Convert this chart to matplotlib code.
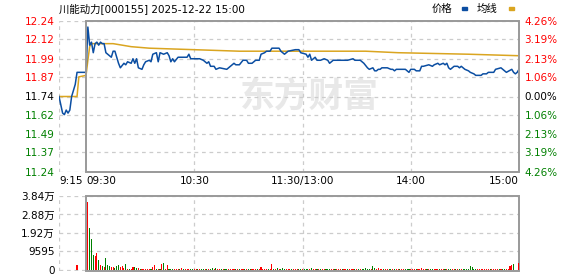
import matplotlib
matplotlib.use("Agg")
import matplotlib.pyplot as plt
from matplotlib.patches import Rectangle
import numpy as np

plt.rcParams['font.family'] = ['DejaVu Sans', 'Noto Sans CJK SC']

# minutes counted from 9:15 (11:30 and 13:00 share minute 135)
price_t = [0, 2, 3, 4, 5, 6, 7, 8, 9, 10, 15, 16, 17, 18, 19, 20, 21, 22, 23, 24, 25, 26, 27, 29, 30,
           31, 32, 33, 34, 36, 37, 38, 40, 41, 42, 43, 44, 46, 47, 48, 50, 51, 52, 54, 55, 56, 58, 60,
           61, 62, 63, 64, 66, 71, 72, 73, 76, 78, 80, 82, 83, 84, 86, 87, 89, 93, 95, 97, 98, 100,
           102, 104, 105, 107, 109, 111, 112, 114, 115, 117, 118, 122, 123, 125, 127, 131, 133, 134,
           137, 138, 139, 140, 142, 143, 145, 147, 149, 150, 152, 156, 160, 163, 164, 167, 168, 169,
           171, 172, 174, 175, 176, 177, 178, 179, 182, 184, 185, 186, 187, 189, 192, 193, 194, 195,
           197, 198, 200, 201, 202, 205, 207, 208, 210, 211, 213, 214, 215, 216, 217, 219, 221, 222,
           223, 225, 227, 228, 230, 231, 234, 235, 237, 238, 241, 242, 245, 246, 247, 248, 251, 252,
           253, 254, 255]
price_v = [11.74, 11.63, 11.62, 11.65, 11.63, 11.65, 11.74, 11.78, 11.82, 11.90, 11.90, 12.20, 12.08,
           12.10, 12.03, 12.09, 12.10, 12.08, 12.10, 12.09, 12.09, 12.03, 12.02, 12.00, 12.04, 12.04,
           12.00, 11.96, 11.93, 11.96, 11.95, 11.97, 11.96, 11.99, 11.96, 11.99, 11.93, 11.92, 11.95,
           11.97, 11.98, 11.97, 12.02, 12.03, 11.97, 12.03, 12.02, 12.03, 12.01, 11.97, 11.99, 11.97,
           12.00, 12.00, 12.02, 11.99, 11.99, 11.99, 11.98, 11.96, 11.97, 11.94, 11.94, 11.92, 11.93,
           11.92, 11.94, 11.96, 11.95, 11.95, 11.98, 11.98, 11.96, 11.96, 11.98, 11.98, 12.02, 12.03,
           12.04, 12.04, 12.06, 12.06, 12.04, 12.02, 12.04, 12.05, 12.05, 12.03, 12.02, 12.00, 12.02,
           11.98, 12.00, 11.98, 11.98, 11.99, 11.98, 11.96, 11.98, 11.98, 11.98, 11.99, 11.98, 11.98,
           11.97, 11.96, 11.93, 11.92, 11.93, 11.91, 11.91, 11.92, 11.92, 11.93, 11.93, 11.92, 11.92,
           11.91, 11.92, 11.92, 11.92, 11.91, 11.90, 11.92, 11.92, 11.91, 11.91, 11.94, 11.94, 11.95,
           11.94, 11.95, 11.96, 11.95, 11.96, 11.95, 11.96, 11.93, 11.92, 11.94, 11.94, 11.93, 11.94,
           11.92, 11.91, 11.90, 11.89, 11.88, 11.88, 11.89, 11.89, 11.90, 11.90, 11.92, 11.93, 11.92,
           11.91, 11.90, 11.92, 11.90, 11.89, 11.90, 11.92]

avg_t = [0, 10, 11, 15, 16, 17, 18, 30, 40, 50, 75, 100, 170, 188, 227, 241, 255]
avg_v = [11.74, 11.74, 11.87, 11.88, 11.98, 12.07, 12.09, 12.09, 12.07, 12.06, 12.05, 12.04,
         12.04, 12.03, 12.02, 12.015, 12.01]

# volume per minute from 9:31 (minute 16) on, u = up (red), d = down (green)
vol_start = 16
vol = [35430, 21940, 16080, 7780, 7260, 8980, 5190, 2590, 1900, 1400, 6050, 2590, 2070, 1380, 1380, 960, 2240, 2590, 1380, 1900,
       700, 2780, 600, 600, 600, 1380, 1380, 700, 800, 600, 600, 600, 600, 600, 600, 600, 1730, 2590, 520, 600,
       520, 3110, 3460, 600, 2590, 520, 520, 520, 520, 520, 600, 520, 880, 520, 520, 520, 600, 520, 520, 520,
       520, 600, 520, 520, 600, 520, 600, 520, 600, 900, 520, 700, 520, 600, 520, 520, 520, 600, 520, 600,
       520, 600, 520, 520, 520, 520, 600, 520, 520, 600, 520, 520, 520, 600, 520, 520, 1400, 600, 600, 600,
       600, 520, 2950, 600, 520, 880, 520, 600, 880, 520, 600, 520, 520, 600, 520, 600, 520, 520, 600, 520,
       600, 600, 600, 520, 700, 520, 600, 520, 520, 520, 600, 520, 520, 520, 600, 520, 520, 520, 520, 520,
       520, 520, 520, 520, 520, 520, 600, 520, 520, 520, 520, 520, 600, 600, 880, 600, 600, 600, 2070, 1200,
       600, 880, 520, 600, 520, 520, 520, 600, 520, 520, 520, 520, 520, 520, 520, 520, 600, 520, 600, 520,
       520, 520, 520, 520, 520, 700, 600, 520, 520, 600, 520, 520, 600, 520, 600, 520, 520, 520, 520, 600,
       600, 600, 520, 520, 520, 520, 600, 520, 520, 520, 520, 520, 2070, 1380, 600, 520, 520, 520, 520, 520,
       520, 520, 520, 520, 520, 600, 600, 520, 520, 520, 520, 520, 600, 520, 2070, 2590, 3110, 0, 0, 3480]
vol_dir = ("udddu ududu ddduu ddduu ududu uddud uuuuu duudu duduu ddduu ududu uuddu "
           "ududd ududd uduud udduu uudud uudud duuud uuuuu duudu duddd uuudu uuddu "
           "dddud uudud uuddd uuduu uduud uuudu duddd ddudd uuuud uuddu duudu udddu "
           "uuduu uuudu dduuu duudu dduud ududd ddddd duuuu uuudu uuudu dduuu uduuu").replace(" ", "")
auction_t = 10
auction_vol = 2590

prev_close = 11.74
price_ticks = [11.24, 11.37, 11.49, 11.62, 11.74, 11.87, 11.99, 12.12, 12.24]
pct_labels = ['4.26%', '3.19%', '2.13%', '1.06%', '0.00%', '1.06%', '2.13%', '3.19%', '4.26%']
vol_ticks = [0, 9595, 19190, 28785, 38380]
vol_labels = ['0', '9595', '1.92万', '2.88万', '3.84万']
time_ticks = [0, 15, 75, 135, 195, 255]
time_labels = ['9:15', '09:30', '10:30', '11:30/13:00', '14:00', '15:00']

RED = '#ff0000'
GREEN = '#008000'
GRID = '#cccccc'
BOX = '#999999'
FS = 7.5

fig = plt.figure(figsize=(5.78, 2.76), dpi=100)
W, H = 578, 276
ax = fig.add_axes([59 / W, 1 - 172 / H, 460 / W, 151 / H])
axv = fig.add_axes([59 / W, 1 - 271 / H, 460 / W, 75 / H])


def frame(a, lo, hi, yt, base=None):
    base = lo if base is None else base
    a.set_xlim(0, 255)
    a.set_ylim(base, hi)
    for s in a.spines.values():
        s.set_visible(False)
    for y in yt:
        a.axhline(y, color=GRID, lw=0.9, ls=(0, (3, 3)), zorder=1)
    for x in [0, 75, 135, 195]:
        a.axvline(x, color=GRID, lw=0.9, ls=(0, (3, 3)), zorder=1)
    a.add_patch(Rectangle((15, base), 240, hi - base, fill=False, ec=BOX, lw=1.4,
                          clip_on=False, zorder=5))
    a.tick_params(length=0, labelsize=FS)


def tick_color(p):
    if p > prev_close + 1e-6:
        return RED
    if p < prev_close - 1e-6:
        return GREEN
    return 'black'


# price panel
frame(ax, 11.24, 12.24, price_ticks)
ax.text(0.545, 0.50, '东方财富', transform=ax.transAxes, ha='center', va='center',
        fontsize=25, fontweight='bold', color='#e8e8e8', zorder=0,
        family=['Noto Sans CJK SC'])
ax.plot(avg_t, avg_v, color='#daa520', lw=1.1, zorder=3)
ax.plot(price_t, price_v, color='#0b4ea2', lw=1.1, zorder=4)

ax.set_yticks(price_ticks)
ax.set_yticklabels(['%.2f' % p for p in price_ticks])
for lab, p in zip(ax.get_yticklabels(), price_ticks):
    lab.set_color(tick_color(p))
ax.tick_params(axis='y', pad=3)

axr = ax.twinx()
axr.set_ylim(11.24, 12.24)
for s in axr.spines.values():
    s.set_visible(False)
axr.set_yticks(price_ticks)
axr.set_yticklabels(pct_labels)
axr.tick_params(length=0, labelsize=FS, pad=4)
for lab, p in zip(axr.get_yticklabels(), price_ticks):
    lab.set_color(tick_color(p))

ax.set_xticks(time_ticks)
ax.set_xticklabels(time_labels)
ax.tick_params(axis='x', pad=3)
for lab, t in zip(ax.get_xticklabels(), time_ticks):
    if t in (0, 15):
        lab.set_ha('left')
    elif t == 255:
        lab.set_ha('right')

# volume panel (baseline kept just above the frame's bottom edge)
frame(axv, 0, 38380, vol_ticks[1:], base=-600)
axv.axhline(0, xmax=15 / 255, color=GRID, lw=0.9, ls=(0, (3, 3)), zorder=1)
vt = np.arange(len(vol)) + vol_start
vc = [RED if d == 'u' else GREEN for d in vol_dir[:len(vol)]]
axv.bar(vt, vol, width=0.6, color=vc, lw=0, antialiased=False, zorder=6)
axv.bar([auction_t], [auction_vol], width=0.6, color=RED, lw=0, antialiased=False, zorder=6)
axv.set_yticks(vol_ticks)
axv.set_yticklabels(vol_labels)
axv.tick_params(axis='y', pad=3)
axv.set_xticks([])

# title and legend
fig.text(59 / W, 1 - 9 / H, '川能动力[000155] 2025-12-22 15:00', fontsize=FS, va='center', ha='left')
fig.text(432 / W, 1 - 9 / H, '价格', fontsize=FS, va='center', ha='left')
fig.text(477 / W, 1 - 9 / H, '均线', fontsize=FS, va='center', ha='left')
fig.patches.append(Rectangle((462 / W, 1 - 10 / H), 5 / W, 3 / H, transform=fig.transFigure,
                             color='#0b4ea2'))
fig.patches.append(Rectangle((509 / W, 1 - 10 / H), 5 / W, 3 / H, transform=fig.transFigure,
                             color='#daa520'))

fig.savefig('out.png', dpi=100)
